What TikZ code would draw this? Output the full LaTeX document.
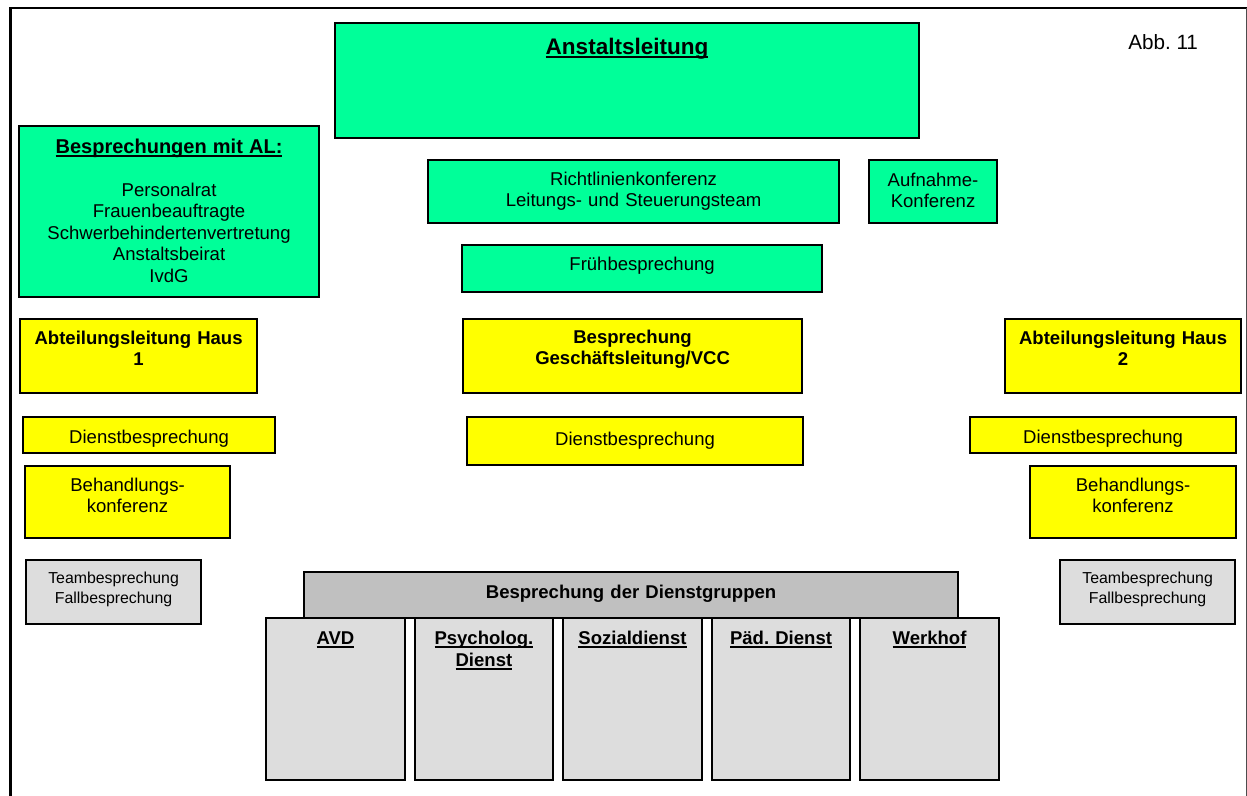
\documentclass[tikz,border=0pt]{standalone}
\usepackage{fontspec}
\setmainfont{Liberation Sans}
\usepackage{tikz}
\usepackage{xcolor}
\frenchspacing
\definecolor{gruen}{HTML}{00FF99}
\definecolor{gelb}{HTML}{FFFF00}
\definecolor{hellgrau}{HTML}{DDDDDD}
\definecolor{dunkelgrau}{HTML}{C0C0C0}
\newcommand{\unterstr}[1]{\setbox0=\hbox{#1}\leavevmode\rlap{\rule[-2.6pt]{\wd0}{1.1pt}}\box0}
\tikzstyle{kasten} = [rectangle, draw, line width=1.6pt, inner sep=0pt, anchor=north west, align=center, font=\fontsize{13.9}{16.2}\selectfont]
\tikzstyle{gruenbox} = [kasten, fill=gruen]
\tikzstyle{gelbbox} = [kasten, fill=gelb]
\tikzstyle{graubox} = [kasten, fill=hellgrau]
\tikzstyle{spalte} = [graubox, text width=104pt, text height=19.5pt, text depth=102pt, font=\fontsize{13.9}{16.5}\selectfont\bfseries]

\begin{document}
\begin{tikzpicture}[x=0.75pt,y=-0.75pt,node distance=111.4pt]
  \useasboundingbox (0,0) rectangle (1247,796);
  % Rahmen
  \draw[line width=2pt] (10.7,796) -- (10.7,8) -- (1247,8);
  \draw[line width=0.75pt, black!70] (1246,8) -- (1246,796);

  \node (Anstalt_L) [gruenbox, text width=438pt, text height=23.25pt, text depth=63pt] at (334,22) {\fontsize{16.9}{20}\selectfont\bfseries\unterstr{Anstaltsleitung}};
  \node (Abb) [anchor=base west, inner sep=0pt, font=\fontsize{15.5}{18}\selectfont] at (1128,50) {Abb. 11};
  \node (Besp_AL) [gruenbox, text width=225pt, text height=20.25pt, text depth=108pt] at (18,125) {{\fontsize{15}{18}\selectfont\bfseries\unterstr{Besprechungen mit AL:}}\\[16pt] Personalrat\\ Frauenbeauftragte\\ Schwerbehindertenvertretung\\ Anstaltsbeirat\\ IvdG};
  \node (Richtl_K) [gruenbox, text width=308.25pt, text height=18.75pt, text depth=28.5pt] at (427,159) {Richtlinienkonferenz\\ Leitungs- und Steuerungsteam};
  \node (Aufn_K) [gruenbox, text width=96pt, text height=19.5pt, text depth=27.75pt] at (868,159) {Aufnahme-\\ Konferenz};
  \node (Frueh_B) [gruenbox, text width=270pt, text height=18.75pt, text depth=16.5pt] at (461,244) {Frühbesprechung};

  \node (Abt_H1) [gelbbox, text width=177.75pt, text height=18.75pt, text depth=36.75pt] at (19,318) {\bfseries Abteilungsleitung Haus\\ 1};
  \node (GL_VCC) [gelbbox, text width=254.25pt, text height=18pt, text depth=37.5pt] at (462,318) {\bfseries Besprechung\\ Geschäftsleitung/VCC};
  \node (Abt_H2) [gelbbox, text width=177pt, text height=18.75pt, text depth=36.75pt] at (1004,318) {\bfseries Abteilungsleitung Haus\\ 2};
  \node (Dienst_L) [gelbbox, text width=189pt, text height=19.5pt, text depth=7.5pt] at (22,416) {Dienstbesprechung};
  \node (Dienst_M) [gelbbox, text width=252pt, text height=21pt, text depth=15pt] at (466,416) {Dienstbesprechung};
  \node (Dienst_R) [gelbbox, text width=199.5pt, text height=19.5pt, text depth=7.5pt] at (969,416) {Dienstbesprechung};
  \node (Behandl_L) [gelbbox, text width=153.75pt, text height=18.75pt, text depth=35.25pt] at (24,465) {Behandlungs-\\ konferenz};
  \node (Behandl_R) [gelbbox, text width=154.5pt, text height=18.75pt, text depth=35.25pt] at (1029,465) {Behandlungs-\\ konferenz};

  \node (Team_L) [graubox, text width=131.25pt, text height=17.25pt, text depth=30.75pt, font=\fontsize{11.9}{15}\selectfont] at (25,559) {Teambesprechung\\ Fallbesprechung};
  \node (Team_R) [graubox, text width=131.25pt, text height=17.25pt, text depth=30.75pt, font=\fontsize{11.9}{15}\selectfont] at (1059,559) {Teambesprechung\\ Fallbesprechung};
  \node (Dienstgr) [graubox, fill=dunkelgrau, text width=490.5pt, text height=19.5pt, text depth=15pt] at (303,571) {\bfseries Besprechung der Dienstgruppen};

  \node (AVD) [spalte] at (265,617) {\unterstr{AVD}};
  \node (Psych) [spalte, right of=AVD, anchor=center] {\unterstr{Psycholog.}\\ \unterstr{Dienst}};
  \node (Sozial) [spalte, right of=Psych, anchor=center] {\unterstr{Sozialdienst}};
  \node (Paed) [spalte, right of=Sozial, anchor=center] {\unterstr{Päd. Dienst}};
  \node (Werkhof) [spalte, right of=Paed, anchor=center] {\unterstr{Werkhof}};
\end{tikzpicture}
\end{document}
